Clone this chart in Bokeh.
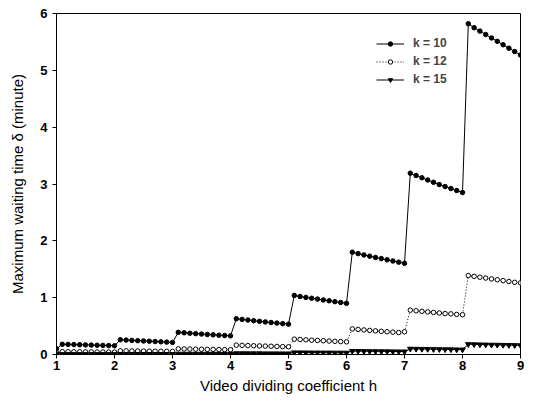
from bokeh.plotting import figure
from bokeh.models import Legend, LegendItem, FixedTicker, Range1d
from bokeh.embed import file_html
from bokeh.resources import INLINE

h = [1.0, 1.1, 1.2, 1.3, 1.4, 1.5, 1.6, 1.7, 1.8, 1.9, 2.0,
     2.1, 2.2, 2.3, 2.4, 2.5, 2.6, 2.7, 2.8, 2.9, 3.0,
     3.1, 3.2, 3.3, 3.4, 3.5, 3.6, 3.7, 3.8, 3.9, 4.0,
     4.1, 4.2, 4.3, 4.4, 4.5, 4.6, 4.7, 4.8, 4.9, 5.0,
     5.1, 5.2, 5.3, 5.4, 5.5, 5.6, 5.7, 5.8, 5.9, 6.0,
     6.1, 6.2, 6.3, 6.4, 6.5, 6.6, 6.7, 6.8, 6.9, 7.0,
     7.1, 7.2, 7.3, 7.4, 7.5, 7.6, 7.7, 7.8, 7.9, 8.0,
     8.1, 8.2, 8.3, 8.4, 8.5, 8.6, 8.7, 8.8, 8.9, 9.0]

k10 = [0.10,
       0.18, 0.178, 0.175, 0.172, 0.169, 0.166, 0.163, 0.160, 0.157, 0.154,
       0.26, 0.254, 0.248, 0.243, 0.238, 0.233, 0.228, 0.223, 0.218, 0.213,
       0.39, 0.382, 0.374, 0.367, 0.360, 0.353, 0.346, 0.340, 0.334, 0.328,
       0.63, 0.618, 0.606, 0.595, 0.584, 0.573, 0.563, 0.553, 0.543, 0.534,
       1.04, 1.02, 1.005, 0.99, 0.975, 0.96, 0.945, 0.93, 0.915, 0.90,
       1.80, 1.775, 1.752, 1.73, 1.708, 1.687, 1.666, 1.645, 1.625, 1.605,
       3.19, 3.15, 3.11, 3.07, 3.03, 2.99, 2.955, 2.92, 2.885, 2.85,
       5.82, 5.75, 5.69, 5.63, 5.57, 5.51, 5.45, 5.39, 5.33, 5.27]

k12 = [0.03,
       0.05, 0.049, 0.048, 0.047, 0.046, 0.046, 0.045, 0.044, 0.043, 0.042,
       0.065, 0.064, 0.062, 0.061, 0.060, 0.059, 0.058, 0.057, 0.056, 0.055,
       0.10, 0.098, 0.096, 0.094, 0.092, 0.090, 0.089, 0.087, 0.086, 0.084,
       0.165, 0.161, 0.157, 0.154, 0.151, 0.148, 0.145, 0.142, 0.139, 0.136,
       0.27, 0.264, 0.258, 0.252, 0.247, 0.242, 0.237, 0.232, 0.227, 0.223,
       0.45, 0.441, 0.432, 0.424, 0.416, 0.408, 0.400, 0.393, 0.386, 0.40,
       0.78, 0.77, 0.76, 0.75, 0.74, 0.73, 0.72, 0.715, 0.705, 0.70,
       1.39, 1.375, 1.36, 1.345, 1.33, 1.315, 1.30, 1.285, 1.27, 1.26]

k15 = [0.003,
       0.005, 0.005, 0.005, 0.005, 0.005, 0.005, 0.005, 0.005, 0.005, 0.005,
       0.007, 0.007, 0.007, 0.007, 0.007, 0.007, 0.007, 0.007, 0.007, 0.007,
       0.012, 0.012, 0.012, 0.011, 0.011, 0.011, 0.011, 0.010, 0.010, 0.010,
       0.020, 0.020, 0.019, 0.019, 0.019, 0.018, 0.018, 0.018, 0.017, 0.017,
       0.035, 0.035, 0.034, 0.033, 0.033, 0.032, 0.032, 0.031, 0.031, 0.030,
       0.060, 0.059, 0.058, 0.057, 0.056, 0.055, 0.054, 0.053, 0.052, 0.051,
       0.100, 0.098, 0.097, 0.095, 0.093, 0.092, 0.090, 0.089, 0.087, 0.086,
       0.180, 0.178, 0.176, 0.173, 0.171, 0.169, 0.167, 0.165, 0.163, 0.160]

x_ticks = [1, 2, 3, 4, 5, 6, 7, 8, 9]
y_ticks = [0, 1, 2, 3, 4, 5, 6]
series_labels = ["k = 10", "k = 12", "k = 15"]

FONT = "Liberation Sans"

p = figure(width=525, height=403, output_backend="svg", toolbar_location=None,
           x_range=Range1d(1, 9), y_range=Range1d(0, 6),
           min_border_left=56, min_border_right=5, min_border_top=13, min_border_bottom=49)
p.background_fill_color = "white"
p.border_fill_color = "white"
p.outline_line_color = "black"
p.outline_line_width = 1
p.xgrid.visible = False
p.ygrid.visible = False

for ax in (p.xaxis[0], p.yaxis[0]):
    ax.major_tick_in = 0
    ax.major_tick_out = 4
    ax.minor_tick_in = 0
    ax.minor_tick_out = 0
    ax.axis_line_color = "black"
    ax.major_tick_line_color = "black"
    ax.major_label_text_font = FONT
    ax.major_label_text_font_size = "13px"
    ax.major_label_text_font_style = "bold"
    ax.major_label_text_color = "black"
    ax.axis_label_text_font = FONT
    ax.axis_label_text_font_size = "15px"
    ax.axis_label_text_font_style = "normal"
    ax.axis_label_text_color = "black"

p.xaxis.ticker = FixedTicker(ticks=x_ticks)
p.yaxis.ticker = FixedTicker(ticks=y_ticks)
p.xaxis.axis_label = "Video dividing coefficient h"
p.yaxis.axis_label = "Maximum waiting time \u03b4 (minute)"
p.xaxis.major_label_standoff = 2
p.yaxis.major_label_standoff = 5
p.xaxis.axis_label_standoff = 4
p.yaxis.axis_label_standoff = 11

l10 = p.line(h, k10, line_color="black", line_width=1)
m10 = p.scatter(h, k10, marker="circle", size=4.5, fill_color="black", line_color="black")
l12 = p.line(h, k12, line_color="black", line_width=1, line_dash="1 2")
m12 = p.scatter(h, k12, marker="circle", size=4.5, fill_color="white", line_color="black", line_width=1)
l15 = p.line(h, k15, line_color="black", line_width=1)
m15 = p.scatter(h, k15, marker="inverted_triangle", size=5.5, fill_color="black", line_color="black")

legend = Legend(items=[
    LegendItem(label=series_labels[0], renderers=[l10, m10]),
    LegendItem(label=series_labels[1], renderers=[l12, m12]),
    LegendItem(label=series_labels[2], renderers=[l15, m15]),
], location=(320, 266))
legend.background_fill_alpha = 0
legend.border_line_alpha = 0
legend.padding = 0
legend.margin = 0
legend.spacing = 0
legend.glyph_width = 28
legend.glyph_height = 11
legend.label_height = 18
legend.label_standoff = 9
legend.label_text_font = FONT
legend.label_text_font_size = "12px"
legend.label_text_font_style = "bold"
p.add_layout(legend)

open("out.html", "w").write(file_html(p, INLINE))
